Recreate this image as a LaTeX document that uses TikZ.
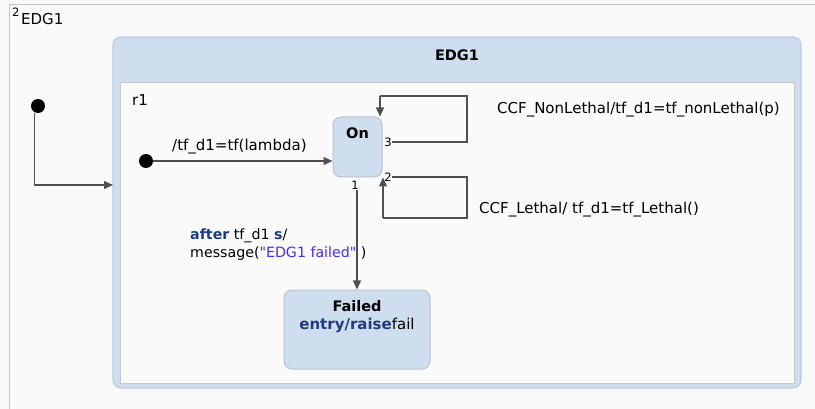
\documentclass[tikz,border=0pt]{standalone}
\usepackage{fontspec}
\setmainfont[Ligatures=TeXOff]{DejaVu Sans}
\usetikzlibrary{arrows.meta,calc}
\definecolor{bgc}{HTML}{F9F9F9}
\definecolor{framec}{HTML}{C4C4C4}
\definecolor{bluefill}{HTML}{CFDEEF}
\definecolor{blueedge}{HTML}{BBCDE0}
\definecolor{regfill}{HTML}{FAFAFA}
\definecolor{regedge}{HTML}{C8C8C8}
\definecolor{stateedge}{HTML}{B9C3CE}
\definecolor{linec}{HTML}{505050}
\definecolor{kwc}{HTML}{1F3A80}
\definecolor{strc}{HTML}{4A2EE8}
\begin{document}
\begin{tikzpicture}[x=1pt,y=-1pt,
  font=\fontsize{15}{18}\selectfont,
  container/.style={draw=blueedge,fill=bluefill,line width=1.2pt,rounded corners=8pt,inner sep=0pt},
  region/.style={draw=regedge,fill=regfill,line width=1pt,inner sep=0pt},
  statebox/.style={draw=stateedge,fill=bluefill,line width=1pt,rounded corners=8pt,inner sep=0pt},
  initdot/.style={circle,fill=black,inner sep=0pt,minimum size=14pt},
  arr/.style={draw=linec,line width=1.2pt,-{Triangle[length=9pt,width=8pt]}},
  ln/.style={draw=linec,line width=1.2pt},
  txt/.style={inner sep=0pt,text=black},
  ttl/.style={inner sep=0pt,text=black,font=\fontsize{14.5}{17}\selectfont\bfseries},
  num/.style={inner sep=0pt,font=\fontsize{11.5}{13}\selectfont}
]
\useasboundingbox (0,0) rectangle (815,409);
\fill[bgc] (0,0) rectangle (815,409);
\draw[framec,line width=1pt] (9,409) |- (815,4.5);
\node[num,anchor=south west] (sup) at (12,17) {2};
\node[txt,anchor=west] (toplabel) at (21,19) {EDG1};

% container
\node[container,minimum width=688pt,minimum height=351pt] (edg) at (457,212.5) {};
\node[ttl] (edgtitle) at (457,55) {EDG1};
\node[region,minimum width=674pt,minimum height=300pt] (r1) at (457,233) {};
\node[txt,anchor=west] (r1lab) at (132,100) {r1};

% outer initial
\node[initdot] (init0) at (38,106) {};
\coordinate (edgin) at (113,185);
\draw[arr] ([xshift=-3.5pt]init0.south) |- (edgin);

% states
\node[statebox,minimum width=49pt,minimum height=60pt] (on) at (357.5,147) {};
\node[ttl] (ontitle) at (357.5,133) {On};
\node[statebox,minimum width=146pt,minimum height=79pt] (failed) at (357,329.5) {};
\node[ttl] (failedtitle) at (357,306) {Failed};
\node[txt] (failedentry) at (357,325.5) {\textbf{\color{kwc}entry/raise}fail};

% inner initial
\node[initdot] (init1) at (146,161) {};
\draw[arr] (init1) -- (init1 -| on.west);
\node[txt,anchor=west] (lab0) at (172,147) {/tf\_d1=tf(lambda)};

% self loop 3
\node[num] (n3) at (388,142) {3};
\coordinate (l3a) at (467,142);
\coordinate (l3b) at (467,96);
\coordinate (l3c) at (380,96);
\draw[ln] (n3.east) -- (l3a) -- (l3b) -- (l3c);
\draw[arr] (l3c) -- (l3c |- on.north);
\node[txt,anchor=west] (lab3) at (497,110) {CCF\_NonLethal/tf\_d1=tf\_nonLethal(p)};

% self loop 2
\node[num] (n2) at (388,177) {2};
\coordinate (l2a) at (467,177);
\coordinate (l2b) at (467,218);
\coordinate (l2c) at (383,218);
\draw[ln] (n2.east) -- (l2a) -- (l2b) -- (l2c);
\draw[arr] (l2c) -- (l2c |- on.south);
\node[txt,anchor=west] (lab2) at (479,210) {CCF\_Lethal/ tf\_d1=tf\_Lethal()};

% transition 1
\node[num,fill=regfill,inner sep=0.5pt] (n1) at (355,185) {1};
\draw[arr] (n1.south -| failed.north) -- (failed.north);
\node[txt,anchor=north west,align=left,font=\fontsize{14.2}{17.5}\selectfont] (lab1) at (190,229)
  {\textbf{\color{kwc}after} tf\_d1 \textbf{\color{kwc}s}/\\message({\color{strc}"EDG1 failed"} )};
\end{tikzpicture}
\end{document}
